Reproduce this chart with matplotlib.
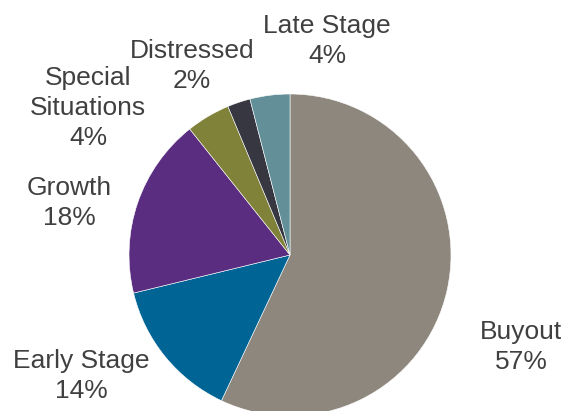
import matplotlib
matplotlib.use("Agg")
import matplotlib.pyplot as plt

# Allocation by strategy (percent)
categories = ["Buyout", "Early Stage", "Growth", "Special\nSituations", "Distressed", "Late Stage"]
values = [57.0, 14.2, 18.1, 4.4, 2.3, 4.0]
colors = ["#8d877d", "#006595", "#5a2d81", "#7f8238", "#363741", "#638f99"]

# Label anchor points (pixel space, y measured upward)
label_xy = [(521, 64), (81, 35), (69, 208), (88, 303), (192, 345), (327, 370)]

W, H = 567, 411
fig = plt.figure(figsize=(W / 100, H / 100), dpi=100)
ax = fig.add_axes([0, 0, 1, 1])

ax.pie(values, colors=colors, startangle=90, counterclock=False,
       center=(290, 156), radius=161, frame=True,
       wedgeprops=dict(edgecolor="white", linewidth=0.4))
ax.set_xlim(0, W)
ax.set_ylim(0, H)
ax.set_aspect("equal")
ax.axis("off")

for name, v, (x, y) in zip(categories, values, label_xy):
    ax.text(x, y, f"{name}\n{v:.0f}%", ha="center", va="center",
            fontsize=19, color="#404040", family="Liberation Sans",
            linespacing=1.32)

fig.savefig("out.png", dpi=100)
